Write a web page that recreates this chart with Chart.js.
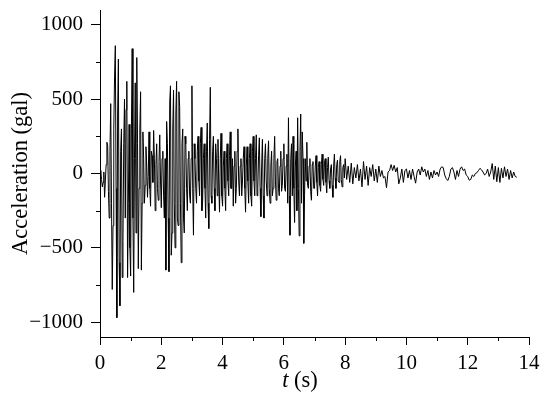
<!DOCTYPE html>
<html>
<head>
<meta charset="utf-8">
<script src="https://cdn.jsdelivr.net/npm/chart.js@4.4.0/dist/chart.umd.min.js"></script>
<style>
html,body{margin:0;padding:0;background:#fff;}
#wrap{width:549px;height:408px;}
</style>
</head>
<body>
<div id="wrap"><canvas id="accel"></canvas></div>
<script>
const denseDt = 0.025;
const codaStart = 8, codaDt = 0.05;
const acc00 = [0,20,-40,-90,-60,10,-160,-50,60,210,190,-120,-300,150,470,-200,-780,-350,300,650,860,-100,-970,400,770,-600,-890,150,300,-700,-450,200,500,-300,430,620,-700,-200,330,-500];
const acc01 = [-690,300,840,-300,-800,100,610,-400,780,200,-640,-100,300,550,-650,-200,280,100,-200,-80,180,50,-160,-20,280,-100,-220,150,120,-60,290,100,-250,60,200,-100,-180,80,260,-50];
const acc02 = [-230,100,150,-150,-300,100,-650,350,200,-300,-660,480,590,-550,-400,300,560,-200,-500,400,620,-300,-350,550,450,-200,-600,200,300,-300,-400,250,200,-100,-250,100,150,-150,-200,100];
const acc03 = [590,-100,-415,200,100,-100,-200,150,250,-50,-150,200,310,-250,-180,100,200,-100,-300,150,340,-200,-370,230,580,-150,-200,150,250,-100,-250,200,100,-150,230,-50,-260,100,270,-150];
const acc04 = [-220,50,150,-100,-250,100,200,-50,-150,120,280,-100,-100,100,-220,50,150,-200,-100,150,300,-50,-150,50,100,-150,-50,100,180,-100,-260,50,180,-50,-200,100,200,-150,-220,150];
const acc05 = [250,-50,-150,100,260,-150,-100,120,240,-100,-290,50,230,-150,-300,100,200,-50,-150,100,220,-100,-200,50,150,-150,-100,100,250,-50,-180,80,100,-100,-150,50,150,-120,-80,100];
const acc06 = [200,-100,-120,50,130,-200,375,-150,-415,100,200,-150,250,-100,-330,50,150,-250,375,-100,-420,150,400,-200,280,100,-470,-150,100,-50,210,-80,-100,50,100,-120,-180,60,80,-100];
const acc07 = [-100,50,120,-60,-150,40,80,-80,-120,60,130,-40,-80,70,100,-60,-130,40,110,-50,-100,30,60,-80,-160,50,130,-30,-100,60,90,-50,-60,80,120,-40,-90,40,60,-30];
const acc08 = [100,-40,50,-60,70,-70,40,-30,60,-50,30,-90,80,-40,50,-80,40,-20,60,-50];
const acc09 = [30,-60,50,-20,20,-30,-20,-95,10,20,60,20,55,10,40,-70,-30,30,-60,20];
const acc10 = [30,-30,20,-40,30,-20,-65,10,30,-10,45,10,30,-20,20,-40,10,-30,20,-10];
const acc11 = [10,-20,30,45,40,-10,-35,-47,-20,30,40,10,-40,20,-20,30,45,20,30,-10];
const acc12 = [-20,-45,-40,-10,-20,0,5,20,35,25,10,-10,0,30,-20,10,67,-40,50,-55];
const acc13 = [40,-60,35,-30,45,-20,30,-40,20,-30,10,-20,-25];

const yTicks = [-1000,-500,0,500,1000];
const yMinor = [-750,-250,250,750];
const xMinor = [1,3,5,7,9,11,13];

const strong = [].concat(acc00,acc01,acc02,acc03,acc04,acc05,acc06,acc07);
const coda = [].concat(acc08,acc09,acc10,acc11,acc12,acc13);
const points = strong.map((v,i)=>({x:+(i*denseDt).toFixed(3),y:v}))
  .concat(coda.map((v,i)=>({x:+(codaStart+i*codaDt).toFixed(3),y:v})));

const serif = '"Liberation Serif","Times New Roman",serif';

const extras = {
  id:'extras',
  afterDraw(chart){
    const {ctx,scales:{x,y}} = chart;
    ctx.save();
    ctx.strokeStyle = '#000';
    ctx.lineWidth = 1;
    ctx.beginPath();
    xMinor.forEach(v=>{
      const px = Math.round(x.getPixelForValue(v))+0.5;
      ctx.moveTo(px,y.bottom); ctx.lineTo(px,y.bottom+4);
    });
    yMinor.forEach(v=>{
      const py = Math.round(y.getPixelForValue(v))+0.5;
      ctx.moveTo(x.left,py); ctx.lineTo(x.left-4,py);
    });
    ctx.stroke();
    // x title, italic t
    ctx.fillStyle = '#000';
    ctx.textBaseline = 'alphabetic';
    ctx.font = 'italic 22.5px '+serif;
    const w1 = ctx.measureText('t').width;
    ctx.font = '22.5px '+serif;
    const w2 = ctx.measureText(' (s)').width;
    const cx = 300, by = 387;
    const sx = cx-(w1+w2)/2;
    ctx.font = 'italic 22.5px '+serif;
    ctx.fillText('t',sx,by);
    ctx.font = '22.5px '+serif;
    ctx.fillText(' (s)',sx+w1,by);
    ctx.restore();
  }
};

new Chart(document.getElementById('accel'),{
  type:'line',
  data:{
    datasets:[{
      data:points,
      borderColor:'#000',
      borderWidth:1,
      pointRadius:0,
      tension:0,
      fill:false
    }]
  },
  options:{
    responsive:true,
    maintainAspectRatio:false,
    animation:false,
    events:[],
    layout:{padding:{top:10,right:20,left:0,bottom:0}},
    plugins:{legend:{display:false},tooltip:{enabled:false}},
    scales:{
      x:{
        type:'linear',
        min:0,max:14,
        afterFit(s){s.height=71;s.paddingLeft=0;s.paddingRight=0;},
        grid:{drawOnChartArea:false,drawTicks:true,tickLength:8,tickColor:'#000'},
        border:{display:true,color:'#000',width:1},
        ticks:{stepSize:2,color:'#000',padding:6,maxRotation:0,font:{family:serif,size:21}}
      },
      y:{
        min:-1100,max:1100,
        afterFit(s){s.width=100;s.paddingTop=0;s.paddingBottom=0;},
        afterBuildTicks(s){s.ticks=yTicks.map(v=>({value:v}));},
        grid:{drawOnChartArea:false,drawTicks:true,tickLength:9,tickColor:'#000'},
        border:{display:true,color:'#000',width:1},
        title:{display:true,text:'Acceleration (gal)',color:'#000',font:{family:serif,size:22.5},padding:{top:8,bottom:0}},
        ticks:{color:'#000',padding:8,font:{family:serif,size:21},
          callback:v=>v<0?'\u2212'+Math.abs(v):String(v)}
      }
    }
  },
  plugins:[extras]
});
</script>
</body>
</html>
